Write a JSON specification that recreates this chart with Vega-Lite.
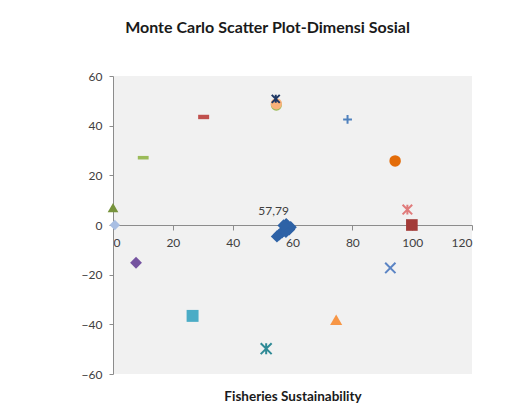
{
  "$schema": "https://vega.github.io/schema/vega-lite/v6.json",
  "width": 359,
  "height": 298,
  "autosize": "none",
  "padding": {"left": 113, "top": 76, "right": 46, "bottom": 45},
  "background": "white",
  "view": {"fill": "#f1f1f1", "stroke": null},
  "title": {
    "text": "Monte Carlo Scatter Plot-Dimensi Sosial",
    "font": "Lato",
    "fontSize": 16,
    "fontWeight": "bold",
    "color": "#1a1a1a",
    "anchor": "middle",
    "dx": -25,
    "offset": 34
  },
  "config": {
    "axis": {"grid": false, "labelFont": "Lato", "labelFontSize": 12, "labelColor": "#404040", "domainColor": "#8c8c8c", "tickColor": "#8c8c8c", "titleFont": "Lato", "titleFontSize": 13.5, "titleFontWeight": "bold", "titleColor": "#1a1a1a"}
  },
  "datasets": {
    "filled": [
      {"series": "A", "x": 0.6, "y": 0},
      {"series": "B", "x": 0, "y": 7},
      {"series": "C", "x": 10.1, "y": 27.1},
      {"series": "D", "x": 30.3, "y": 43.5},
      {"series": "E", "x": 54.6, "y": 48.3},
      {"series": "F", "x": 54.6, "y": 48.8},
      {"series": "G", "x": 94.3, "y": 25.8},
      {"series": "H", "x": 99.9, "y": 0},
      {"series": "I", "x": 7.7, "y": -15.2},
      {"series": "J", "x": 26.6, "y": -36.6},
      {"series": "K", "x": 74.6, "y": -38.2},
      {"series": "MC", "x": 57.79, "y": -1.2},
      {"series": "MC", "x": 58.3, "y": -0.4},
      {"series": "MC", "x": 58.9, "y": -1.8},
      {"series": "MC", "x": 57.2, "y": -2.2},
      {"series": "MC", "x": 56.5, "y": -3.0},
      {"series": "MC", "x": 55.6, "y": -3.8},
      {"series": "MC", "x": 54.8, "y": -4.6},
      {"series": "MC", "x": 57.9, "y": 0.4},
      {"series": "MC", "x": 59.4, "y": -0.9},
      {"series": "MC", "x": 57.8, "y": -2.8},
      {"series": "MC", "x": 57.0, "y": -0.2}
    ],
    "stroked": [
      {"series": "L", "x": 54.4, "y": 50.8},
      {"series": "M", "x": 78.4, "y": 42.5},
      {"series": "N", "x": 98.4, "y": 6.2},
      {"series": "O", "x": 92.7, "y": -17.3},
      {"series": "P", "x": 51.2, "y": -49.8}
    ],
    "labels": [
      {"x": 53.7, "y": 5.6, "text": "57,79"}
    ]
  },
  "layer": [
    {
      "data": {"name": "filled"},
      "mark": {"type": "point", "filled": true, "opacity": 1},
      "encoding": {
        "x": {"field": "x", "type": "quantitative", "scale": {"domain": [0, 120], "nice": false}, "axis": {"orient": "bottom", "offset": -149, "values": [0, 20, 40, 60, 80, 100, 120], "title": null, "tickSize": 5, "labelPadding": 7, "domainWidth": 1}},
        "y": {"field": "y", "type": "quantitative", "scale": {"domain": [-60, 60], "nice": false}, "axis": {"values": [-60, -40, -20, 0, 20, 40, 60], "title": null, "tickSize": 4, "labelPadding": 7}},
        "color": {"field": "series", "type": "nominal", "legend": null, "scale": {"domain": ["A", "B", "C", "D", "E", "F", "G", "H", "I", "J", "K", "MC"], "range": ["#a8bee3", "#77933c", "#9bbb59", "#c0504d", "#9bbb59", "#f9b27a", "#e36c09", "#a33b38", "#7553a0", "#4bacc6", "#f79646", "#2e62a6"]}},
        "shape": {"field": "series", "type": "nominal", "legend": null, "scale": {"domain": ["A", "B", "C", "D", "E", "F", "G", "H", "I", "J", "K", "MC"], "range": ["diamond", "triangle-up", "M-1,-0.33H1V0.33H-1Z", "M-1,-0.4H1V0.4H-1Z", "circle", "circle", "circle", "square", "diamond", "square", "triangle-up", "diamond"]}},
        "size": {"field": "series", "type": "nominal", "legend": null, "scale": {"domain": ["A", "B", "C", "D", "E", "F", "G", "H", "I", "J", "K", "MC"], "range": [110, 150, 144, 64, 150, 95, 150, 140, 130, 180, 150, 200]}}
      }
    },
    {
      "data": {"name": "stroked"},
      "mark": {"type": "point", "filled": false, "strokeWidth": 2, "opacity": 1},
      "encoding": {
        "x": {"field": "x", "type": "quantitative", "axis": null},
        "y": {"field": "y", "type": "quantitative"},
        "color": {"field": "series", "type": "nominal", "legend": null, "scale": {"domain": ["L", "M", "N", "O", "P"], "range": ["#1f3864", "#4f81bd", "#e07b7b", "#5b84c4", "#2f8a96"]}},
        "shape": {"field": "series", "type": "nominal", "legend": null, "scale": {"domain": ["L", "M", "N", "O", "P"], "range": ["M-1,-1L1,1M-1,1L1,-1M0,-1V1", "M-1,0H1M0,-1V1", "M-1,-1L1,1M-1,1L1,-1M0,-1V1", "M-1,-1L1,1M-1,1L1,-1", "M-1,-1L1,1M-1,1L1,-1M0,-1V1"]}},
        "size": {"field": "series", "type": "nominal", "legend": null, "scale": {"domain": ["L", "M", "N", "O", "P"], "range": [64, 120, 110, 110, 110]}}
      }
    },
    {
      "data": {"name": "labels"},
      "mark": {"type": "text", "font": "Lato", "fontSize": 12, "color": "#404040", "baseline": "middle", "align": "center"},
      "encoding": {
        "x": {"field": "x", "type": "quantitative", "axis": {"orient": "bottom", "offset": 0, "domain": false, "ticks": false, "labels": false, "title": "Fisheries Sustainability", "titlePadding": 15}},
        "y": {"field": "y", "type": "quantitative"},
        "text": {"field": "text"}
      }
    }
  ],
  "resolve": {"scale": {"color": "independent", "shape": "independent", "size": "independent"}, "axis": {"x": "independent"}}
}
